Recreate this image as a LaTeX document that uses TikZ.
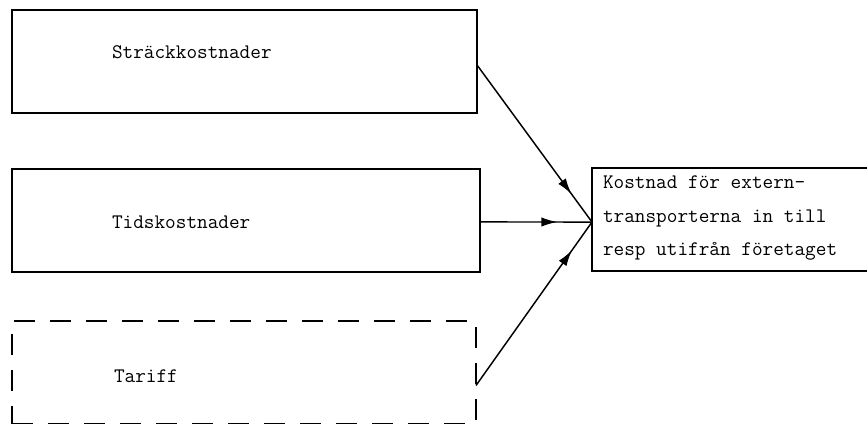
\documentclass[tikz,border=0pt]{standalone}
\usetikzlibrary{arrows.meta,decorations.markings}
\begin{document}
\begin{tikzpicture}[x=0.75pt,y=-0.75pt,
  every node/.style={inner sep=0pt,outer sep=0pt},
  cost/.style={draw,line width=1.2pt,anchor=north west,minimum width=465*0.75pt,minimum height=103*0.75pt},
  dashbox/.style={cost,dash pattern=on 16pt off 11pt},
  lbl/.style={font=\fontsize{15.5}{25}\selectfont\ttfamily,anchor=west},
  feed/.style={line width=1.1pt,
    decoration={markings,mark=at position -26pt with {\arrow{Latex[length=12pt,width=7pt]}}},
    postaction={decorate}}]
  \clip (0,0) rectangle (867,424);

  % input boxes
  \node[cost] (s1) at (12,10) {};
  \node[cost,minimum width=468*0.75pt] (s2) at (12,169) {};
  \node[dashbox,minimum width=464*0.75pt] (s3) at (12,321) {};

  \node[lbl] (l1) at (112,52) {Sträckkostnader};
  \node[lbl] (l2) at (112,222) {Tidskostnader};
  \node[lbl] (l3) at (114,376) {Tariff};

  % result box, running past the right edge
  \node[draw,line width=1.2pt,anchor=north west,minimum width=300*0.75pt,minimum height=103*0.75pt] (t) at (592,168) {};
  \node[lbl,align=left] (tl) at (603,218) {Kostnad för extern-\\transporterna in till\\resp utifrån företaget};

  % connectors
  \coordinate (m) at ([yshift=-1.9pt]t.west);
  \draw[feed] ([yshift=-2.6pt]s1.east) -- (m);
  \draw[feed] ([yshift=-1.1pt]s2.east) -- (m);
  \draw[feed] ([yshift=-9.75pt]s3.east) -- (m);
\end{tikzpicture}
\end{document}
